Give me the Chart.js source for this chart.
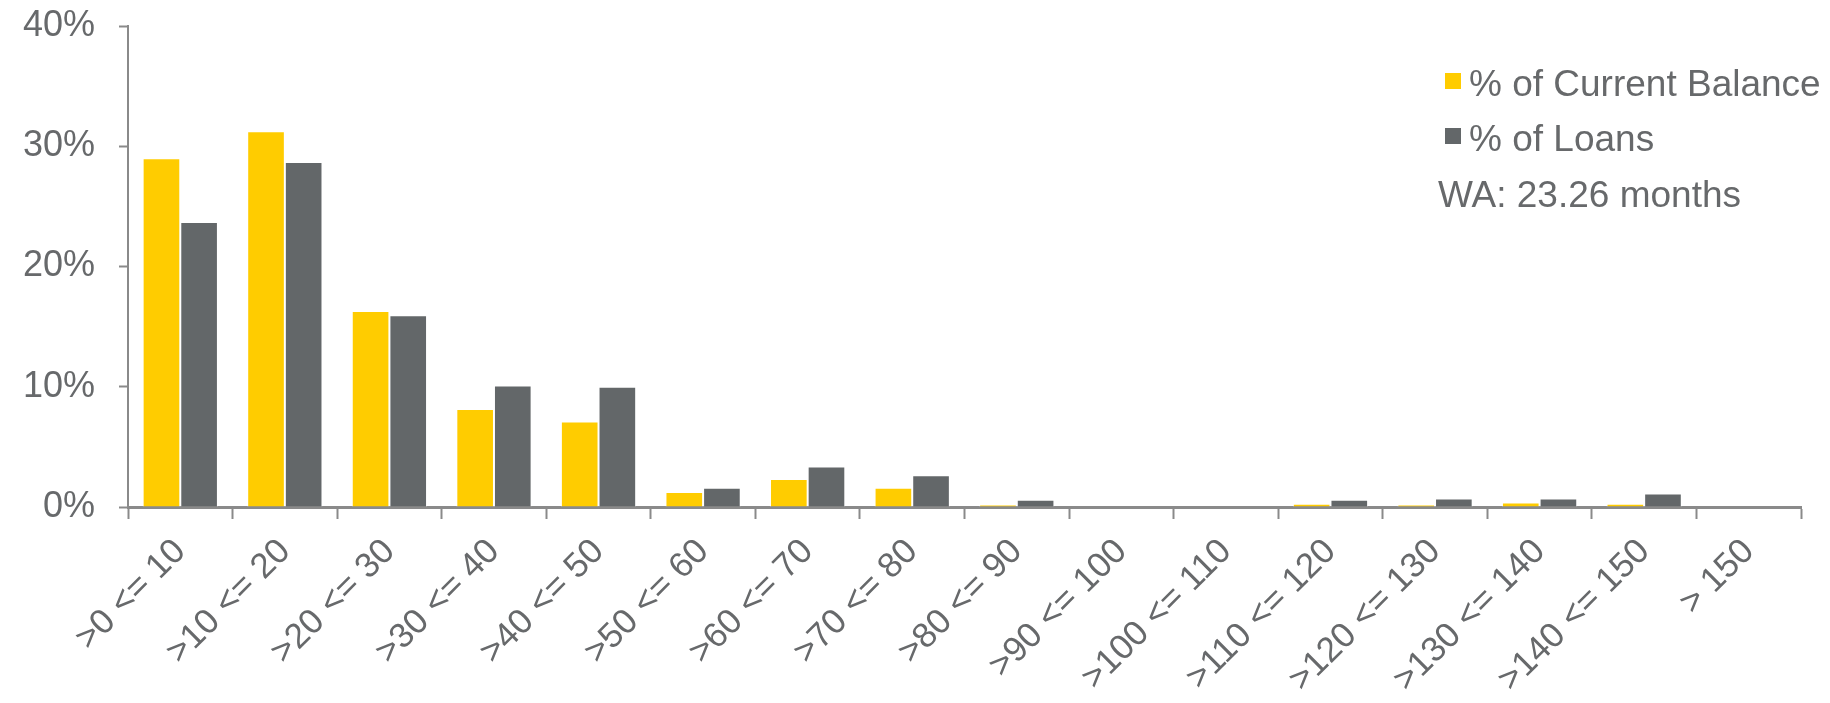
<!DOCTYPE html>
<html>
<head>
<meta charset="utf-8">
<script src="https://cdn.jsdelivr.net/npm/chart.js@4"></script>
<style>
  html, body { margin: 0; padding: 0; background: #fff; }
  #wrap { width: 1830px; height: 703px; }
</style>
</head>
<body>
<div id="wrap"><canvas id="barChart"></canvas></div>
<script>
const categories = ['>0 <= 10', '>10 <= 20', '>20 <= 30', '>30 <= 40', '>40 <= 50', '>50 <= 60', '>60 <= 70', '>70 <= 80',
  '>80 <= 90', '>90 <= 100', '>100 <= 110', '>110 <= 120', '>120 <= 130', '>130 <= 140', '>140 <= 150', '> 150'];
const balancePct = [29.0, 31.25, 16.3, 8.15, 7.1, 1.25, 2.33, 1.6, 0.2, 0, 0, 0.27, 0.2, 0.38, 0.28, 0];
const loansPct = [23.7, 28.7, 15.95, 10.1, 10.0, 1.6, 3.37, 2.63, 0.6, 0, 0, 0.6, 0.7, 0.7, 1.13, 0];
const yTicks = [0, 10, 20, 30, 40];
const waNote = 'WA: 23.26 months';

const textColor = '#67696b';
const axisColor = '#8a8a8a';
const colorStyle = {
  yellow: '#ffcc00',
  grey: '#636769'
};

Chart.defaults.font.family = '"Liberation Sans", Arial, sans-serif';
Chart.defaults.color = textColor;

// legend drawn by hand so it can sit inside the plot, stacked, with the WA line under it
const sideLegend = {
  id: 'sideLegend',
  afterDraw(chart) {
    const ctx = chart.ctx;
    const area = chart.chartArea;
    const x = area.right - 356;
    const rows = [area.top + 70, area.top + 125];
    ctx.save();
    ctx.font = '37px "Liberation Sans", Arial, sans-serif';
    ctx.textBaseline = 'alphabetic';
    ctx.textAlign = 'left';
    chart.data.datasets.forEach((ds, i) => {
      ctx.fillStyle = ds.backgroundColor;
      ctx.fillRect(x, rows[i] - 23, 16, 16);
      ctx.fillStyle = textColor;
      ctx.fillText(ds.label, x + 24, rows[i]);
    });
    ctx.fillText(waNote, x - 7, area.top + 181);
    ctx.restore();
  }
};

let barChartItem = new Chart(document.getElementById('barChart'), {
  type: 'bar',
  data: {
    labels: categories,
    datasets: [{
      label: '% of Current Balance',
      data: balancePct,
      backgroundColor: colorStyle.yellow,
      borderColor: 'rgba(255,255,255,0.8)',
      borderWidth: 1,
      borderSkipped: 'bottom',
      categoryPercentage: 0.72,
      barPercentage: 1
    }, {
      label: '% of Loans',
      data: loansPct,
      backgroundColor: colorStyle.grey,
      borderColor: 'rgba(255,255,255,0.8)',
      borderWidth: 1,
      borderSkipped: 'bottom',
      categoryPercentage: 0.72,
      barPercentage: 1
    }]
  },
  options: {
    responsive: true,
    maintainAspectRatio: false,
    animation: false,
    layout: { padding: { top: 26, right: 29, left: 0, bottom: 0 } },
    plugins: {
      legend: { display: false },
      tooltip: { enabled: false }
    },
    scales: {
      x: {
        grid: {
          display: true,
          drawOnChartArea: false,
          drawTicks: true,
          tickLength: 12,
          tickWidth: 2,
          tickColor: axisColor,
          offset: true
        },
        border: { display: true, color: axisColor, width: 3 },
        ticks: {
          color: textColor,
          font: { size: 35 },
          minRotation: 45,
          maxRotation: 45,
          autoSkip: false,
          padding: 12
        },
        afterFit: scale => { scale.height = 196; }
      },
      y: {
        min: 0,
        max: 40,
        grid: {
          display: true,
          drawOnChartArea: false,
          tickLength: 9,
          tickWidth: 2,
          tickColor: axisColor
        },
        border: { display: true, color: axisColor, width: 2 },
        afterBuildTicks: scale => { scale.ticks = yTicks.map(v => ({ value: v })); },
        ticks: {
          color: textColor,
          font: { size: 36 },
          padding: 24,
          callback: v => v + '%'
        },
        afterFit: scale => {
          scale.width = 128;
          // tick padding would otherwise push the plot top down
          scale.paddingTop = 0;
          scale.paddingBottom = 0;
        }
      }
    }
  },
  plugins: [sideLegend]
});
</script>
</body>
</html>
